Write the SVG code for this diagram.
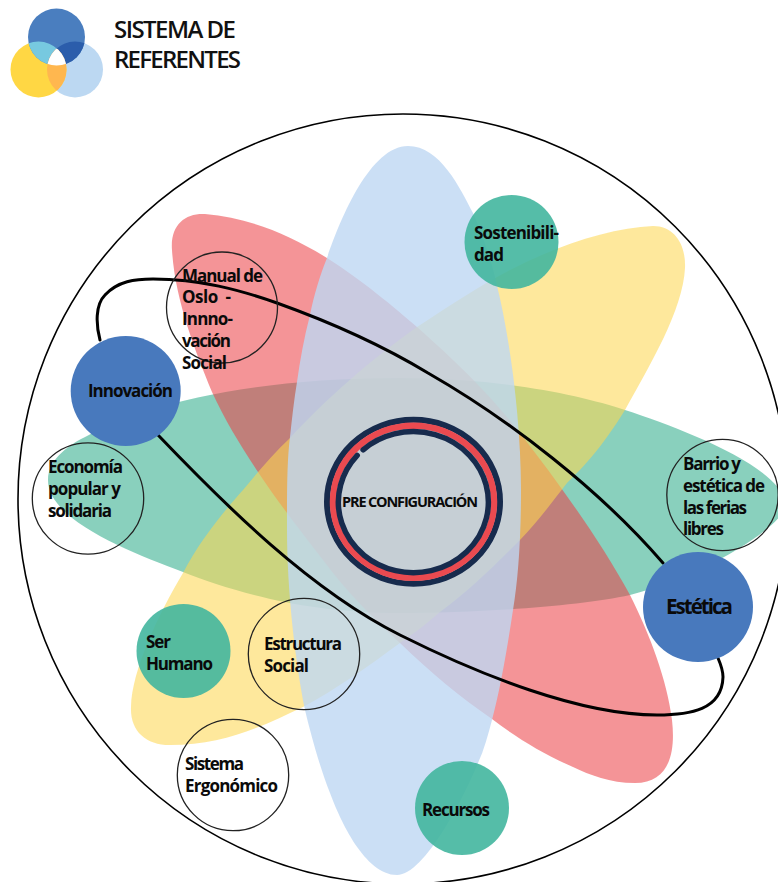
<svg xmlns="http://www.w3.org/2000/svg" width="778" height="882" viewBox="0 0 778 882">
<style>
text{font-family:"Open Sans","Liberation Sans",sans-serif;font-weight:700;fill:#0a0a0a}
.l{font-size:17px}
.xl{font-size:20.5px}
.t{font-size:24px;font-weight:600;fill:#111}
.p{font-size:14.5px;font-weight:700}
.o{fill:none;stroke:#222;stroke-width:1.3}
.b{fill:#4879bd}
.g{fill:#42b69f;fill-opacity:.9}
.c{fill:none;stroke:#000;stroke-width:3;stroke-linecap:round}
</style>
<defs>
<clipPath id="cb"><circle cx="56.5" cy="37" r="28.5"/></clipPath>
<clipPath id="cy"><circle cx="38.5" cy="69.5" r="28"/></clipPath>
<clipPath id="cl"><circle cx="75" cy="69.5" r="28"/></clipPath>
</defs>
<rect width="778" height="882" fill="#fff"/>
<g id="logo">
<circle cx="75" cy="69.5" r="28" fill="#bcd8f2"/>
<circle cx="38.5" cy="69.5" r="28" fill="#ffd744"/>
<circle cx="56.5" cy="37" r="28.5" fill="#4a7ebf"/>
<g clip-path="url(#cb)"><circle cx="38.5" cy="69.5" r="28" fill="#77c9e0"/><circle cx="75" cy="69.5" r="28" fill="#2b5dab"/></g>
<g clip-path="url(#cy)"><circle cx="75" cy="69.5" r="28" fill="#ffb74f"/></g>
<g clip-path="url(#cy)"><g clip-path="url(#cl)"><circle cx="56.5" cy="37" r="28.5" fill="#fff"/></g></g>
</g>
<g id="title">
<text class="t" x="114" y="38" textLength="122">SISTEMA DE</text>
<text class="t" x="114" y="68" textLength="127">REFERENTES</text>
</g>
<g id="boundary"><circle cx="403" cy="499" r="385" fill="none" stroke="#000" stroke-width="1.6"/></g>
<g id="petals">
<path id="petal-green" fill="#3ab191" fill-opacity=".6" d="M48 480C48 458 72 443 87 436C130 412 230 378 400 378C500 378 580 395 625 410C680 428 778 465 786 503C788 525 700 578 630 595C580 606 480 613 400 613C300 613 230 590 183 572C130 552 48 520 48 480Z"/>
<path id="petal-red" fill="#eb4046" fill-opacity=".56" d="M172 250C170 225 185 213 205 214C250 218 290 235 327 258C362 280 395 308 417 327C460 365 490 395 520 433C560 485 600 540 630 595C650 635 667 680 672 720C676 755 668 783 635 783C610 783 590 775 573 767C545 755 515 737 492 719C460 697 430 672 400 643C375 620 345 590 323 560C300 530 280 505 258 472C240 445 225 420 212 392C195 350 175 300 172 250Z"/>
<path id="petal-yellow" fill="#fdd751" fill-opacity=".57" d="M653 226C675 226 686 245 685 268C683 310 650 365 625 410C600 450 585 465 567 483C550 505 535 525 520 540C495 565 470 590 440 612C425 625 412 635 400 643C370 665 335 690 303 707C265 725 225 745 170 745C145 745 130 730 131 707C132 670 158 615 183 573C200 540 225 510 243 490C258 472 272 455 290 438C325 400 370 360 417 327C440 312 470 292 497 277C555 245 610 228 653 226Z"/>
<path id="petal-blue" fill="#bed7f3" fill-opacity=".8" d="M408 146C440 146 460 188 473 213C484 238 493 265 498 290C510 340 521 420 521 490C521 540 518 580 513 610C507 650 500 690 492 720C488 735 484 750 478 763C465 795 425 875 397 875C365 875 340 820 330 793C320 768 311 735 305 710C295 660 287 590 287 530C287 490 287 460 290 437C292 418 294 400 297 382C300 360 304 338 310 315C314 295 320 275 327 258C340 220 370 146 408 146Z"/>
</g>
<g id="connectors">
<path class="c" d="M100 340C96 325 95 305 105 295C118 281 135 279 153 279C200 279 240 290 277 303C330 322 385 347 428 373C510 420 600 490 663 563"/>
<path class="c" d="M158 435C225 505 310 590 400 635C480 675 580 715 657 715C690 715 722 710 723 677C723 670 721 665 718 658"/>
</g>
<g id="node-pre">
<ellipse cx="413.5" cy="501.7" rx="86.5" ry="82" fill="none" stroke="#172b4d" stroke-width="6"/>
<ellipse cx="413.5" cy="501.7" rx="80.5" ry="76" fill="none" stroke="#ea4a50" stroke-width="6.5"/>
<path d="M363.1 449.8A75 70.5 0 1 1 357.2 455.4" fill="none" stroke="#172b4d" stroke-width="5.5" stroke-linecap="round"/>
<text class="p" x="342" y="507" textLength="136">PRE CONFIGURACIÓN</text>
</g>
<g id="node-manual"><circle class="o" cx="222" cy="307.5" r="55.5"/>
<text class="l" x="182" y="282" textLength="81">Manual de</text><text class="l" x="182" y="303" xml:space="preserve" textLength="49">Oslo  -</text><text class="l" x="182" y="325" textLength="51">Innno-</text><text class="l" x="182" y="347" textLength="49">vación</text><text class="l" x="182" y="369" textLength="45">Social</text></g>
<g id="node-innovacion"><circle class="b" cx="125.7" cy="391" r="55"/><text class="l" x="88" y="397" textLength="85">Innovación</text></g>
<g id="node-economia"><circle class="o" cx="88" cy="498.5" r="55.7"/>
<text class="l" x="48" y="473" textLength="75">Economía</text><text class="l" x="48" y="495" textLength="73">popular y</text><text class="l" x="48" y="517" textLength="64">solidaria</text></g>
<g id="node-sostenibilidad"><circle class="g" cx="511.5" cy="242" r="47"/>
<text class="l" x="474" y="239" textLength="85">Sostenibili-</text><text class="l" x="474" y="261" textLength="30">dad</text></g>
<g id="node-barrio"><circle class="o" cx="722.5" cy="495" r="55.7"/>
<text class="l" x="683" y="470" textLength="58">Barrio y</text><text class="l" x="683" y="492" textLength="82">estética de</text><text class="l" x="683" y="513.5" textLength="64">las ferias</text><text class="l" x="683" y="535" textLength="41">libres</text></g>
<g id="node-estetica"><circle class="b" cx="698" cy="607" r="55"/><text class="xl" x="666" y="614" textLength="67">Estética</text></g>
<g id="node-ser"><circle class="g" cx="183.5" cy="651" r="47"/>
<text class="l" x="146" y="648" textLength="25">Ser</text><text class="l" x="146" y="670" textLength="67">Humano</text></g>
<g id="node-estructura"><circle class="o" cx="304" cy="654" r="55.7"/>
<text class="l" x="264" y="650" textLength="78">Estructura</text><text class="l" x="264" y="672" textLength="45">Social</text></g>
<g id="node-sistema"><circle class="o" cx="233" cy="775" r="55.7"/>
<text class="l" x="185" y="770" textLength="59">Sistema</text><text class="l" x="185" y="792" textLength="93">Ergonómico</text></g>
<g id="node-recursos"><circle class="g" cx="462" cy="808" r="47"/><text class="l" x="422" y="816" textLength="68">Recursos</text></g>
</svg>
